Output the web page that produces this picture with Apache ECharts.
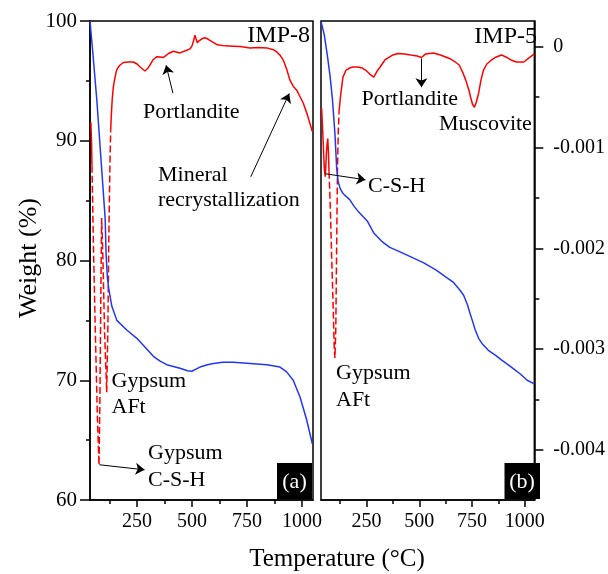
<!DOCTYPE html>
<html>
<head>
<meta charset="utf-8">
<script src="https://cdn.jsdelivr.net/npm/echarts@6/dist/echarts.min.js"></script>
<style>html,body{margin:0;padding:0;background:#fff}#c{width:608px;height:574px}</style>
</head>
<body>
<div id="c"></div>
<script>
// ---------- Data ----------
// Panel (a) IMP-8 : TG (weight %)
const tgA_T = [36,50,67,85,105,109,115,120,135,158,203,249,294,324,355,385,445,480,499,520,536,570,597,640,688,764,840,900,930,960,991,1021,1047];
const tgA_W = [100,97.1,93.4,88.7,83.5,80.6,78.6,77.8,76.2,75.0,74.2,73.5,72.6,72.0,71.6,71.3,71.0,70.8,70.75,70.95,71.1,71.3,71.4,71.5,71.5,71.4,71.3,71.1,70.7,70.0,68.6,66.7,64.7];
// Panel (a) DTG : steep onset (solid), spikes (dashed), rest (solid)
const dtgA1_T = [40,43,45];
const dtgA1_D = [-0.000749,-0.00095,-0.00118];
const dtgA2_T = [45,52,60,70,77,81,85,89,95,102,112,117,122,127,130];
const dtgA2_D = [-0.00118,-0.00202,-0.00281,-0.00371,-0.00415,-0.00351,-0.00252,-0.00170,-0.00212,-0.00281,-0.00343,-0.00283,-0.00182,-0.00113,-0.00083];
const dtgA3_T = [130,133,137,142,150,157,165,173,188,210,233,250,264,275,286,300,309,324,339,355,370,393,415,445,476,491,500,507,513,518,524,532,545,558,570,585,600,615,650,688,720,764,800,840,870,885,900,915,930,945,960,976,990,1006,1025,1047];
const dtgA3_D = [-0.00083,-0.00068,-0.00052,-0.00040,-0.00030,-0.00023,-0.00020,-0.00018,-0.000155,-0.00015,-0.00015,-0.00017,-0.00020,-0.00022,-0.00024,-0.00021,-0.00020,-0.000125,-0.000099,-0.0001,-0.000105,-0.000066,-0.000043,-0.00006,-0.000033,-0.00002,0.00001,0.00006,0.000115,0.00008,0.00004,0.00006,0.00008,0.00009,0.00008,0.00006,0.00004,0.00002,0.00001,0.000007,0.000003,-0.00001,-0.000005,-0.00001,-0.000028,-0.00005,-0.000082,-0.000132,-0.00022,-0.00033,-0.00039,-0.00043,-0.00049,-0.00056,-0.00068,-0.00084];

// Panel (b) IMP-5 : TG
const tgB_T = [35,50,65,77,88,100,108,115,125,138,169,192,215,253,284,322,360,398,460,521,580,628,660,689,710,728,740,751,765,781,800,827,860,889,920,950,980,1011,1045];
const tgB_W = [99.9,98.8,97.0,95.4,93.5,90.6,87.8,86.6,86.0,85.6,85.1,84.5,84.0,83.3,82.3,81.6,81.1,80.8,80.3,79.8,79.2,78.6,78.2,77.6,77.1,76.3,75.6,75.0,74.2,73.5,73.0,72.5,72.1,71.7,71.3,70.9,70.5,70.0,69.7];
// Panel (b) DTG
const dtgB1_T = [37,42,46,50,54,58,62,66,69,72];
const dtgB1_D = [-0.00061,-0.00083,-0.00103,-0.00122,-0.00129,-0.00113,-0.00098,-0.00091,-0.00103,-0.00124];
const dtgB2_T = [72,77,85,92,97,100,104,108,112,116,120];
const dtgB2_D = [-0.00124,-0.00152,-0.00212,-0.00261,-0.00301,-0.00309,-0.00281,-0.00202,-0.00123,-0.00083,-0.00063];
const dtgB3_T = [120,125,130,138,153,170,184,207,230,245,265,284,300,314,337,352,375,398,430,459,490,510,530,567,600,643,670,689,705,720,735,743,752,761,770,781,792,804,820,842,865,889,910,934,960,995,1020,1045];
const dtgB3_D = [-0.00063,-0.00052,-0.00043,-0.00030,-0.00023,-0.00021,-0.0002,-0.0002,-0.00021,-0.00023,-0.00027,-0.0003,-0.00024,-0.0002,-0.00013,-0.00011,-0.00008,-0.000066,-0.00007,-0.00008,-0.00009,-0.000105,-0.00007,-0.00006,-0.00008,-0.000115,-0.00015,-0.00018,-0.00025,-0.00033,-0.00043,-0.0005,-0.00057,-0.0006,-0.00055,-0.00046,-0.00033,-0.00023,-0.00017,-0.00013,-0.0001,-0.00008,-0.0001,-0.00013,-0.00015,-0.00015,-0.00011,-0.00007];

// Tick labels
const xTicks = [250,500,750,1000];
const xMinorTicks = [125,375,625,875];
const dtgTicks = [-0.004,-0.003,-0.002,-0.001,0];
const dtgMinorTicks = [-0.0035,-0.0025,-0.0015,-0.0005];

// Annotation arrows (data coords: [T, DTG])
const arrowsA = [
  [[413,-0.00046],[382,-0.000182]],
  [[767,-0.00129],[942,-0.000463]],
  [[78,-0.00415],[284,-0.0042]]
];
const arrowsB = [
  [[510,-0.000115],[510,-0.0004]],
  [[54,-0.00126],[245,-0.00132]]
];

// ---------- Chart ----------
const FONT = '"Liberation Serif", "Times New Roman", serif';
const zip = (a, b) => a.map((v, i) => [v, b[i]]);
const RED = '#ff0000', BLUE = '#2238f0';
const black = {color:'#000', width:1.5};

function xAxes(grid, min, max) {
  return [
    {gridIndex:grid, type:'value', min:min, max:max, position:'bottom',
     axisLine:{show:true, onZero:false, lineStyle:black},
     axisTick:{show:true, customValues:xTicks, length:7, lineStyle:black},
     axisLabel:{show:true, customValues:xTicks, fontSize:20, fontFamily:FONT, color:'#000', margin:12,
       formatter: v => String(Math.round(v))},
     splitLine:{show:false}},
    {gridIndex:grid, type:'value', min:min, max:max, position:'bottom',
     axisLine:{show:false, onZero:false},
     axisTick:{show:true, customValues:xMinorTicks, length:4, lineStyle:black},
     axisLabel:{show:false}, splitLine:{show:false}}
  ];
}

const dtgMin = -0.0045, dtgMax = 0.000257;

function arrowLines(list) {
  return {
    silent:true, symbol:['none','arrow'], symbolSize:9,
    label:{show:false},
    lineStyle:{color:'#000', width:1, type:'solid'},
    emphasis:{disabled:true},
    data: list.map(p => [{coord:p[0]}, {coord:p[1]}])
  };
}

function line(xi, yi, data, color, dashed, extra) {
  return Object.assign({
    type:'line', xAxisIndex:xi, yAxisIndex:yi, data:data,
    showSymbol:false, symbol:'none', silent:true,
    lineStyle:{color:color, width:1.5, type: dashed ? [7,3] : 'solid'},
    itemStyle:{color:color}
  }, extra || {});
}

function txt(t, x, baseline, size, align, fill) {
  size = size || 22;
  return {type:'text', z:100, style:{text:t, x:x, y:baseline - 0.33*size, fill:fill||'#000',
    font: size + 'px ' + FONT, textAlign: align||'left', textVerticalAlign:'middle'}};
}

const option = {
  animation:false,
  backgroundColor:'#fff',
  grid:[
    {left:90, top:21, width:223, height:479, show:true, borderColor:'#000', borderWidth:1.5, backgroundColor:'transparent'},
    {left:321, top:21, width:220, height:479, show:true, borderColor:'#000', borderWidth:1.5, backgroundColor:'transparent'}
  ],
  xAxis: [].concat(xAxes(0, 36, 1050), xAxes(1, 34, 1045)),
  yAxis: [
    {gridIndex:0, type:'value', min:60, max:100, interval:10, position:'left',
     axisLine:{show:true, onZero:false, lineStyle:black},
     axisTick:{show:true, length:10, lineStyle:black},
     minorTick:{show:true, splitNumber:2, length:4, lineStyle:black},
     axisLabel:{fontSize:21, fontFamily:FONT, color:'#000', margin:13},
     splitLine:{show:false}, minorSplitLine:{show:false}},
    {gridIndex:0, type:'value', min:dtgMin, max:dtgMax, show:false, splitLine:{show:false}},
    {gridIndex:1, type:'value', min:60, max:100, show:false, splitLine:{show:false}},
    {gridIndex:1, type:'value', min:dtgMin, max:dtgMax, position:'right',
     axisLine:{show:true, onZero:false, lineStyle:black},
     axisTick:{show:true, customValues:dtgTicks, length:9, lineStyle:black},
     axisLabel:{show:true, customValues:dtgTicks, fontSize:20, fontFamily:FONT, color:'#000', margin:19,
       formatter: v => (Math.abs(v) < 1e-9 ? '0' : v.toFixed(3))},
     splitLine:{show:false}},
    {gridIndex:1, type:'value', min:dtgMin, max:dtgMax, position:'right',
     axisLine:{show:false, onZero:false},
     axisTick:{show:true, customValues:dtgMinorTicks, length:5, lineStyle:black},
     axisLabel:{show:false}, splitLine:{show:false}}
  ],
  series: [
    line(0, 1, zip(dtgA1_T, dtgA1_D), RED, false),
    line(0, 1, zip(dtgA2_T, dtgA2_D), RED, true),
    line(0, 1, zip(dtgA3_T, dtgA3_D), RED, false, {markLine: arrowLines(arrowsA)}),
    line(0, 0, zip(tgA_T, tgA_W), BLUE, false),
    line(2, 3, zip(dtgB1_T, dtgB1_D), RED, false),
    line(2, 3, zip(dtgB2_T, dtgB2_D), RED, true),
    line(2, 3, zip(dtgB3_T, dtgB3_D), RED, false, {markLine: arrowLines(arrowsB)}),
    line(2, 2, zip(tgB_T, tgB_W), BLUE, false)
  ],
  graphic: [
    txt('IMP-8', 310, 43.5, 24, 'right'),
    txt('Portlandite', 143, 119),
    txt('Mineral', 158, 182),
    txt('recrystallization', 158, 207.5),
    txt('Gypsum', 111.5, 388.5),
    txt('AFt', 111.5, 414),
    txt('Gypsum', 148, 460.5),
    txt('C-S-H', 148, 487),
    {type:'rect', z:99, shape:{x:277, y:463, width:35, height:36}, style:{fill:'#000'}},
    txt('(a)', 294.5, 489, 22, 'center', '#fff'),
    txt('IMP-5', 537, 45, 24, 'right'),
    txt('Portlandite', 361.5, 106.5),
    txt('Muscovite', 439, 131),
    txt('C-S-H', 368, 193),
    txt('Gypsum', 336, 380),
    txt('AFt', 336, 407),
    {type:'rect', z:99, shape:{x:504.5, y:463, width:35.5, height:36}, style:{fill:'#000'}},
    txt('(b)', 522, 489, 22, 'center', '#fff'),
    {type:'text', z:100, x:29, y:258, rotation:Math.PI/2,
     style:{text:'Weight (%)', font:'26px ' + FONT, fill:'#000', textAlign:'center', textVerticalAlign:'middle'}},
    txt('Temperature (\u00B0C)', 337, 568, 25, 'center')
  ]
};

const chart = echarts.init(document.getElementById('c'), null, {renderer:'canvas'});
chart.setOption(option);
</script>
</body>
</html>
